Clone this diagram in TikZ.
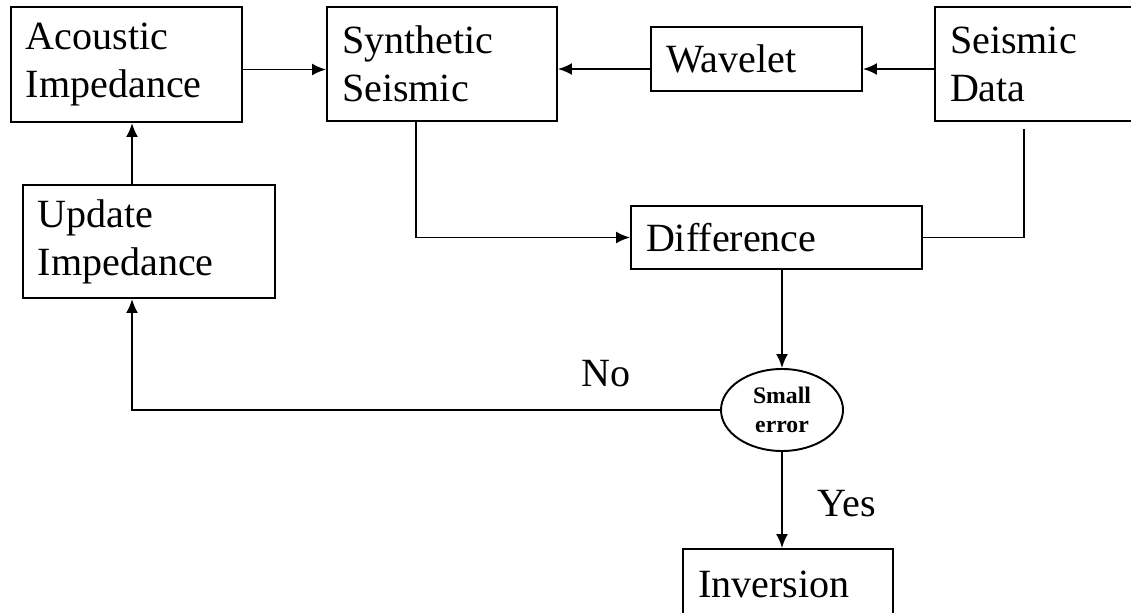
\documentclass[tikz,border=0pt]{standalone}
\usepackage{fontspec}
\setmainfont{Liberation Serif}
\usetikzlibrary{arrows.meta,positioning,shapes.geometric}

\begin{document}
\begin{tikzpicture}[
        x=0.2mm, y=-0.2mm,
        >={Latex[length=2.8mm,width=2.4mm]},
        line width=1.1pt,
        font=\fontsize{22.8}{27.3}\selectfont,
        block/.style={
            rectangle,
            draw=black,
            align=left,
            inner xsep=3mm,
            inner ysep=0pt,
            fill=white
        },
        test/.style={
            ellipse,
            draw=black,
            inner sep=0pt,
            minimum width=24.4mm,
            minimum height=16.4mm,
            align=center,
            font=\fontsize{13.5}{16.5}\selectfont\bfseries
        },
        lbl/.style={
            inner sep=0pt,
            anchor=base
        }
    ]
    \useasboundingbox (0,0) rectangle (1131,613);

    % top row of blocks
    \node [block, text width=40.2mm, minimum height=23mm] (acoustic) at (126.5,64.5)
        {Acoustic\\Impedance};
    \node [block, text width=40mm, minimum height=22.8mm] (synthetic) at (442,64)
        {Synthetic\\Seismic};
    \node [block, text width=36.2mm, minimum height=12.8mm] (wavelet) at (756.5,59)
        {Wavelet};
    \node [block, text width=35mm, minimum height=22.8mm] (seismic) at (1037.5,64)
        {Seismic\\Data};

    % loop and decision
    \node [block, text width=44.4mm, minimum height=22.6mm] (update) at (149,241.5)
        {Update\\Impedance};
    \node [block, text width=52.2mm, minimum height=12.6mm] (difference) at (776.5,237.5)
        {Difference};
    \node [test] (err) at (782,410) {Small\\error};
    \node [block, text width=36mm, minimum height=14mm] (inversion) at (788,584)
        {Inversion};

    % taps below the boxes
    \coordinate (upin) at ([xshift=24.4mm]acoustic.south west);
    \coordinate (syntap) at ([xshift=18mm]synthetic.south west);
    \coordinate (seistap) at ([xshift=18mm,yshift=-1.4mm]seismic.south west);

    % connectors
    \draw [->] ([yshift=-1mm]acoustic.east) -- ([yshift=-1mm]acoustic.east -| synthetic.west);
    \draw [->] ([yshift=-1mm]seismic.west) -- ([yshift=-1mm]seismic.west -| wavelet.east);
    \draw [->] ([yshift=-2mm]wavelet.west) -- ([yshift=-2mm]wavelet.west -| synthetic.east);
    \draw [->] (syntap) |- (difference.west);
    \draw (seistap) |- (difference.east);
    \draw [->] (difference.south -| err.north) -- (err.north);
    \draw [->] (err.west) -| node [lbl, pos=0.097, yshift=4.6mm] {No} (update.south -| upin);
    \draw [->] (update.north -| upin) -- (upin);
    \draw [->] (err.south) -- node [lbl, pos=0.67, xshift=13mm] {Yes} (err.south |- inversion.north);

\end{tikzpicture}
\end{document}
